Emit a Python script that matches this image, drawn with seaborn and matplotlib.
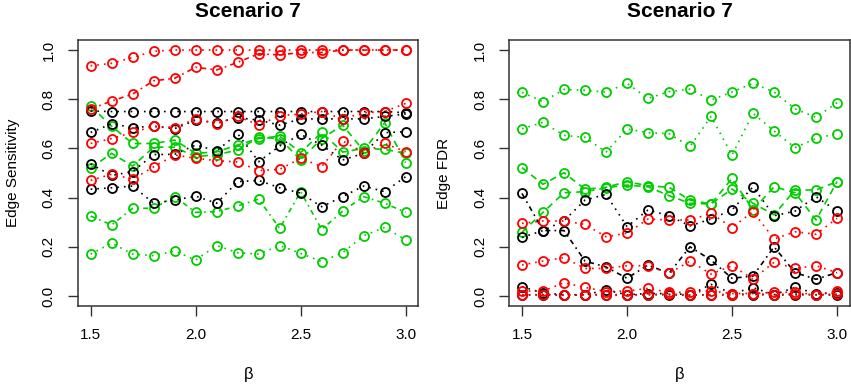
import numpy as np
import pandas as pd
import matplotlib
matplotlib.use("Agg")
import matplotlib.pyplot as plt
import seaborn as sns

beta = [1.5, 1.6, 1.7, 1.8, 1.9, 2.0, 2.1, 2.2, 2.3, 2.4, 2.5, 2.6, 2.7, 2.8, 2.9, 3.0]

# Edge Sensitivity (left panel)
sens_red_1 = [0.936, 0.946, 0.97, 0.995, 1.0, 1.0, 1.0, 1.0, 1.0, 1.0, 1.0, 1.0, 1.0, 1.0, 1.0, 1.0]
sens_red_2 = [0.76, 0.793, 0.821, 0.875, 0.885, 0.93, 0.919, 0.95, 0.985, 0.98, 0.99, 0.99, 1.0, 1.0, 1.0, 1.0]
sens_red_3 = [0.62, 0.64, 0.665, 0.69, 0.685, 0.72, 0.70, 0.73, 0.695, 0.733, 0.74, 0.75, 0.72, 0.745, 0.75, 0.783]
sens_red_4 = [0.47, 0.495, 0.475, 0.525, 0.573, 0.56, 0.55, 0.545, 0.51, 0.515, 0.56, 0.526, 0.63, 0.583, 0.62, 0.587]
sens_black_1 = [0.752, 0.75, 0.75, 0.75, 0.75, 0.75, 0.75, 0.75, 0.75, 0.75, 0.75, 0.75, 0.75, 0.75, 0.75, 0.745]
sens_black_2 = [0.665, 0.70, 0.685, 0.69, 0.68, 0.715, 0.705, 0.725, 0.715, 0.695, 0.72, 0.72, 0.72, 0.72, 0.73, 0.74]
sens_black_3 = [0.537, 0.49, 0.506, 0.575, 0.576, 0.614, 0.59, 0.66, 0.546, 0.61, 0.657, 0.614, 0.553, 0.58, 0.664, 0.668]
sens_black_4 = [0.434, 0.44, 0.447, 0.377, 0.39, 0.406, 0.377, 0.465, 0.47, 0.44, 0.418, 0.363, 0.404, 0.447, 0.424, 0.485]
sens_green_1 = [0.17, 0.215, 0.17, 0.164, 0.183, 0.146, 0.205, 0.176, 0.17, 0.205, 0.173, 0.14, 0.176, 0.245, 0.279, 0.228]
sens_green_2 = [0.325, 0.289, 0.356, 0.357, 0.404, 0.34, 0.343, 0.366, 0.394, 0.275, 0.424, 0.27, 0.345, 0.404, 0.377, 0.34]
sens_green_3 = [0.52, 0.58, 0.528, 0.605, 0.605, 0.566, 0.575, 0.593, 0.645, 0.64, 0.553, 0.64, 0.695, 0.59, 0.705, 0.542]
sens_green_4 = [0.772, 0.69, 0.62, 0.62, 0.634, 0.58, 0.586, 0.614, 0.64, 0.65, 0.583, 0.665, 0.585, 0.60, 0.596, 0.58]

# Edge FDR (right panel)
fdr_green_1 = [0.828, 0.79, 0.84, 0.836, 0.829, 0.865, 0.803, 0.831, 0.841, 0.797, 0.829, 0.865, 0.829, 0.761, 0.726, 0.786]
fdr_green_2 = [0.68, 0.706, 0.653, 0.645, 0.585, 0.679, 0.664, 0.66, 0.608, 0.73, 0.573, 0.743, 0.671, 0.603, 0.641, 0.66]
fdr_green_3 = [0.522, 0.454, 0.501, 0.434, 0.442, 0.465, 0.448, 0.442, 0.39, 0.374, 0.478, 0.35, 0.444, 0.42, 0.309, 0.465]
fdr_green_4 = [0.259, 0.34, 0.42, 0.424, 0.44, 0.451, 0.444, 0.408, 0.377, 0.374, 0.435, 0.377, 0.33, 0.431, 0.431, 0.465]
fdr_black_1 = [0.417, 0.266, 0.266, 0.142, 0.118, 0.072, 0.126, 0.092, 0.2, 0.146, 0.072, 0.081, 0.2, 0.095, 0.068, 0.095]
fdr_black_2 = [0.238, 0.266, 0.306, 0.39, 0.413, 0.282, 0.35, 0.326, 0.285, 0.313, 0.35, 0.444, 0.326, 0.345, 0.404, 0.345]
fdr_black_3 = [0.038, 0.012, 0.005, 0.005, 0.024, 0.005, 0.01, 0.01, 0.005, 0.047, 0.01, 0.034, 0.005, 0.035, 0.01, 0.011]
fdr_black_4 = [0.004, 0.005, 0.004, 0.005, 0.005, 0.004, 0.006, 0.005, 0.004, 0.005, 0.005, 0.006, 0.004, 0.005, 0.005, 0.004]
fdr_red_1 = [0.295, 0.305, 0.305, 0.291, 0.241, 0.255, 0.313, 0.309, 0.309, 0.336, 0.278, 0.343, 0.232, 0.261, 0.251, 0.316]
fdr_red_2 = [0.126, 0.142, 0.156, 0.112, 0.112, 0.123, 0.123, 0.092, 0.142, 0.089, 0.123, 0.069, 0.137, 0.112, 0.123, 0.095]
fdr_red_3 = [0.02, 0.02, 0.054, 0.035, 0.018, 0.02, 0.031, 0.015, 0.015, 0.02, 0.01, 0.01, 0.015, 0.015, 0.005, 0.02]
fdr_red_4 = [0.005, 0.005, 0.005, 0.004, 0.006, 0.005, 0.005, 0.008, 0.004, 0.005, 0.006, 0.01, 0.005, 0.01, 0.005, 0.008]

RED, GREEN, BLACK = "#FF0000", "#00CD00", "#000000"
DOT = (0, (1, 3))
DASHDOT = (0, (3, 2.5, 1, 2.5))
DASH = (0, (4, 3))

left_series = [
    (sens_green_1, GREEN, DOT), (sens_green_2, GREEN, DASHDOT),
    (sens_green_3, GREEN, DASH), (sens_green_4, GREEN, DASH),
    (sens_black_1, BLACK, DOT), (sens_black_2, BLACK, DOT),
    (sens_black_3, BLACK, DOT), (sens_black_4, BLACK, DOT),
    (sens_red_1, RED, DOT), (sens_red_2, RED, DASHDOT),
    (sens_red_3, RED, DOT), (sens_red_4, RED, DOT),
]
right_series = [
    (fdr_green_1, GREEN, DOT), (fdr_green_2, GREEN, DOT),
    (fdr_green_3, GREEN, DASH), (fdr_green_4, GREEN, DASH),
    (fdr_black_1, BLACK, DASHDOT), (fdr_black_2, BLACK, DOT),
    (fdr_black_3, BLACK, DOT), (fdr_black_4, BLACK, DOT),
    (fdr_red_1, RED, DOT), (fdr_red_2, RED, DOT),
    (fdr_red_3, RED, DOT), (fdr_red_4, RED, DOT),
]

sns.set_style("ticks")
plt.rcParams["font.family"] = ["Liberation Sans", "DejaVu Sans"]

fig = plt.figure(figsize=(8.51, 3.84), dpi=100)
ax1 = fig.add_axes([0.0917, 0.2036, 0.3998, 0.6917])
ax2 = fig.add_axes([0.5986, 0.2036, 0.3998, 0.6917])

for ax, series, ylab in [(ax1, left_series, "Edge Sensitivity"), (ax2, right_series, "Edge FDR")]:
    for vals, col, ls in series:
        df = pd.DataFrame({"beta": beta, "value": vals})
        sns.lineplot(data=df, x="beta", y="value", ax=ax, color=col, linestyle=ls,
                     linewidth=1.2, marker="o", markersize=6.5, markerfacecolor="none",
                     markeredgecolor=col, markeredgewidth=1.3)
    ax.set_xlim(1.44, 3.06)
    ax.set_ylim(-0.04, 1.04)
    ax.set_xticks([1.5, 2.0, 2.5, 3.0])
    ax.set_xticklabels(["1.5", "2.0", "2.5", "3.0"])
    ax.set_yticks([0.0, 0.2, 0.4, 0.6, 0.8, 1.0])
    ax.set_yticklabels(["0.0", "0.2", "0.4", "0.6", "0.8", "1.0"], rotation=90, va="center")
    ax.tick_params(axis="both", length=7, width=1, color="#333333", labelsize=11, pad=9,
                   labelcolor="black")
    for sp in ax.spines.values():
        sp.set_visible(True)
        sp.set_color("#333333")
        sp.set_linewidth(1.1)
    ax.set_xlabel("β", fontsize=12, color="black")
    ax.set_ylabel(ylab, fontsize=11, color="black")
    ax.xaxis.set_label_coords(0.5, -0.232)
    ax.yaxis.set_label_coords(-0.172, 0.5)
    ax.text(0.5, 1.108, "Scenario 7", transform=ax.transAxes, ha="center", va="center",
            fontsize=15, fontweight="bold", color="black")

fig.savefig("out.png", dpi=100)
